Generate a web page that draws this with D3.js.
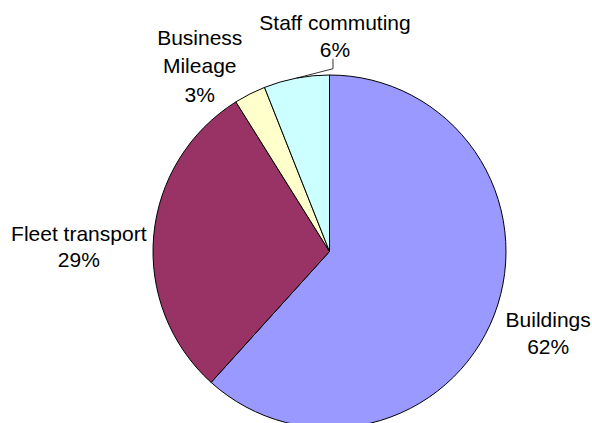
<!DOCTYPE html>
<html>
<head>
<meta charset="utf-8">
<script src="https://cdn.jsdelivr.net/npm/d3@7"></script>
<style>
  html, body { margin: 0; padding: 0; background: #fff; }
  svg { display: block; }
  text { font-family: "Liberation Sans", Arial, sans-serif; fill: #000; }
</style>
</head>
<body>
<div id="chart"></div>
<script>
// ---- data ----
const categories = ["Buildings", "Fleet transport", "Business Mileage", "Staff commuting"];
const values = [61.7, 29.4, 2.9, 6.0];
const colors = ["#9999FF", "#993366", "#FFFFCC", "#CCFFFF"];

// ---- layout config ----
const W = 592, H = 423;
const cx = 329.5, cy = 251.5, radius = 176.5;
const fontSize = 21, lineH = 27, capH = fontSize * 0.716;
const labelGap = 12;
const labelNudge = [[3, 6.5], [4.5, 13], [-25.5, 14.5], [55, -10]];
const lineHeights = [27, 26, 28.5, 27];
const leaderFor = [false, false, false, true];

const svg = d3.select("#chart").append("svg")
  .attr("width", W).attr("height", H);

const data = categories.map((c, i) => ({ name: c, value: values[i], color: colors[i], i }));
const total = d3.sum(values);
const pct = d3.format(".0%");

const pie = d3.pie().sort(null).value(d => d.value);
const arcs = pie(data);
const arc = d3.arc().innerRadius(0).outerRadius(radius);

const g = svg.append("g").attr("transform", `translate(${cx},${cy})`);

g.selectAll("path.slice").data(arcs).enter().append("path")
  .attr("class", "slice")
  .attr("d", arc)
  .attr("fill", d => d.data.color)
  .attr("stroke", "#000")
  .attr("stroke-width", 1)
  .attr("stroke-linejoin", "round");

function wrap(name) {
  if (name.length > 15) return name.split(" ");
  return [name];
}

arcs.forEach((d, k) => {
  const lines = wrap(d.data.name).concat([pct(d.data.value / total)]);
  const lh = lineHeights[k];
  const mid = (d.startAngle + d.endAngle) / 2;
  const s = Math.sin(mid), c = Math.cos(mid);
  const t = g.append("text").attr("text-anchor", "middle").style("font-size", fontSize + "px");
  const spans = lines.map(l => t.append("tspan").text(l));
  const w = d3.max(spans, sp => sp.node().getComputedTextLength());
  const h = capH + (lines.length - 1) * lh;
  const R = radius + labelGap;
  const px = R * s, py = -R * c;
  const lx = px + (w / 2) * s + labelNudge[k][0];
  const ly = py + (h / 2) * (-c) + labelNudge[k][1];
  const top = ly - h / 2;
  spans.forEach((sp, j) => sp.attr("x", lx).attr("y", top + capH + j * lh));
  if (leaderFor[k]) {
    const bottom = ly + h / 2;
    const ax = radius * s, ay = -radius * c;
    const x0 = lx - 2;
    g.append("path")
      .attr("d", `M${x0},${bottom + 2}V${bottom + 12}L${ax},${ay}`)
      .attr("fill", "none")
      .attr("stroke", "#000")
      .attr("stroke-width", 0.8);
  }
});
</script>
</body>
</html>
